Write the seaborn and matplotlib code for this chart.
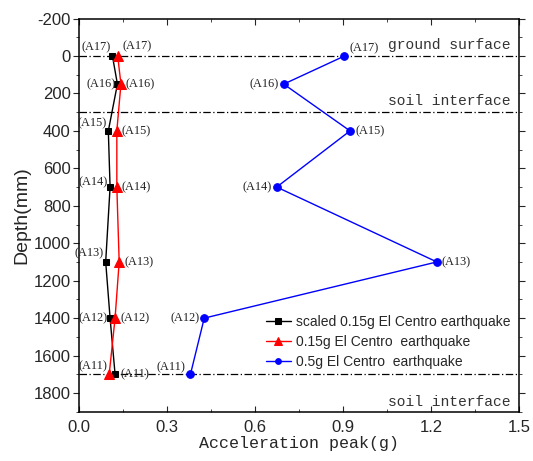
import matplotlib
matplotlib.use("Agg")
import matplotlib.pyplot as plt
from matplotlib.ticker import MultipleLocator
import seaborn as sns
import pandas as pd

# ---- data ----
sensors = ["(A17)", "(A16)", "(A15)", "(A14)", "(A13)", "(A12)", "(A11)"]
depth_mm = [0, 150, 400, 700, 1100, 1400, 1700]
scaled_015g = [0.114, 0.131, 0.100, 0.106, 0.091, 0.106, 0.123]
el_centro_015g = [0.132, 0.143, 0.129, 0.129, 0.137, 0.123, 0.103]
el_centro_05g = [0.905, 0.698, 0.924, 0.674, 1.220, 0.427, 0.380]
series_labels = ["scaled 0.15g El Centro earthquake",
                 "0.15g El Centro  earthquake",
                 "0.5g El Centro  earthquake"]
boundary_depths = [0, 300, 1700]
boundary_names = ["ground surface", "soil interface", "soil interface"]
x_ticks = [0.0, 0.3, 0.6, 0.9, 1.2, 1.5]
y_ticks = [-200, 0, 200, 400, 600, 800, 1000, 1200, 1400, 1600, 1800]

sns.set_style("ticks")
plt.rcParams['font.family'] = ['Liberation Sans', 'DejaVu Sans']
plt.rcParams['axes.unicode_minus'] = False

fig = plt.figure(figsize=(5.33, 4.61), dpi=100)
ax = fig.add_axes([0.1482, 0.1069, 0.9737 - 0.1482, 0.9597 - 0.1069])

df = pd.DataFrame({"sensor": sensors, "depth": depth_mm,
                   "s015": scaled_015g, "e015": el_centro_015g, "e05": el_centro_05g})

styles = [("s015", "black", "s", 5), ("e015", "red", "^", 7), ("e05", "blue", "o", 5.5)]
for (col, color, mk, ms), lab in zip(styles, series_labels):
    sns.lineplot(data=df, x=col, y="depth", sort=False, estimator=None, ax=ax,
                 color=color, marker=mk, markersize=ms, markeredgecolor=color,
                 linewidth=1.0, label=lab)

# boundary lines and their labels
for d in boundary_depths:
    ax.axhline(d, color="black", linestyle=(0, (6, 2, 1, 2)), linewidth=0.9, zorder=1)
for d, name, dy in zip(boundary_depths, boundary_names, [-60, -60, 150]):
    ax.text(1.472, d + dy, name, ha="right", va="center",
            fontsize=10.5, family="Liberation Mono", color="#333333")

# point annotations
ann_font = dict(fontsize=8.8, family="Liberation Serif", color="#222222")
left_dy = [9, 0, 8, 5, 9, 0, 8]
for i, s in enumerate(sensors):
    xl = min(scaled_015g[i], el_centro_015g[i])
    xr = max(scaled_015g[i], el_centro_015g[i])
    ax.annotate(s, (xl, depth_mm[i]), xytext=(-2, left_dy[i]), textcoords="offset pixels",
                ha="right", va="center", **ann_font)
    ax.annotate(s, (xr, depth_mm[i]), xytext=(5, 10 if i == 0 else 0), textcoords="offset pixels",
                ha="left", va="center", **ann_font)
blue_side = [1, -1, 1, -1, 1, -1, -1]
blue_dy = [8, 0, 0, 0, 0, 0, 7]
for i, s in enumerate(sensors):
    sgn = blue_side[i]
    ax.annotate(s, (el_centro_05g[i], depth_mm[i]), xytext=(5 * sgn, blue_dy[i]),
                textcoords="offset pixels", ha="left" if sgn > 0 else "right",
                va="center", **ann_font)

ax.set_xlim(0, 1.5)
ax.set_ylim(1900, -200)
ax.set_xticks(x_ticks)
ax.set_xticklabels([f"{v:.1f}" for v in x_ticks])
ax.set_yticks(y_ticks)
ax.xaxis.set_minor_locator(MultipleLocator(0.15))
ax.yaxis.set_minor_locator(MultipleLocator(100))
ax.tick_params(axis="x", which="both", direction="in", top=True, labelsize=12, pad=6)
ax.tick_params(axis="x", which="major", length=4)
ax.tick_params(axis="x", which="minor", length=2.5)
ax.tick_params(axis="y", which="both", direction="out", right=True, labelsize=12, pad=2)
ax.tick_params(axis="y", which="major", length=4)
ax.tick_params(axis="y", which="minor", length=2.5)
for sp in ax.spines.values():
    sp.set_visible(True)
    sp.set_linewidth(1.1)
    sp.set_color("black")

ax.set_xlabel("Acceleration peak(g)", family="Liberation Mono", fontsize=12, labelpad=1)
ax.set_ylabel("Depth(mm)", fontsize=14, labelpad=2)

leg = ax.legend(loc="lower right", bbox_to_anchor=(1.0, 0.087), frameon=False, fontsize=10,
                handlelength=1.8, handletextpad=0.4, labelspacing=0.45, markerscale=0.75,
                borderaxespad=0.2)

fig.savefig("out.png", dpi=100)
